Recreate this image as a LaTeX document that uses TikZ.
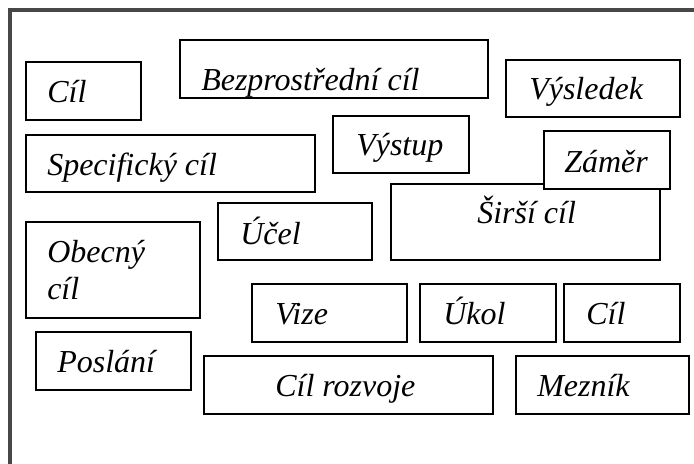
\documentclass[tikz,border=0pt]{standalone}
\usepackage{fontspec}
\setmainfont{Liberation Serif}
\begin{document}
\begin{tikzpicture}[x=0.75pt,y=-0.75pt,
  box/.style={draw=black, fill=white, line width=1.5pt, rectangle, inner sep=0pt},
  lbl/.style={inner sep=0pt, anchor=base west, font=\fontsize{24}{27.7}\selectfont\itshape, align=left},
  frame/.style={draw=black!72, line width=2.6pt}]
\useasboundingbox (0,0) rectangle (694,464);
% open frame along the top and left edges
\coordinate (fa) at (10,464);
\coordinate (fb) at (10,10);
\coordinate (fc) at (694,10);
\draw[frame] (fa) -- (fb) -- (fc);
% #1 name, #2-#5 box corners, #6-#7 base point of the last text line, #8 text
\newcommand\termbox[8]{%
  \node[box, minimum width={0.75pt*(#4-#2)}, minimum height={0.75pt*(#5-#3)}]
    (#1) at ({(#2+#4)/2},{(#3+#5)/2}) {};
  \node[lbl] (#1-t) at (#6,#7) {#8};}
\termbox{cil1}{26}{62}{141}{120}{47}{102}{Cíl}
\termbox{bez}{180}{40}{488}{98}{201}{90}{Bezprostřední cíl}
\termbox{spec}{26}{135}{315}{192}{47}{175}{Specifický cíl}
\termbox{vystup}{333}{116}{469}{173}{356}{155}{Výstup}
\termbox{vysl}{506}{60}{680}{117}{529}{99}{Výsledek}
\termbox{sirsi}{391}{184}{660}{260}{477}{223}{Širší cíl}
\termbox{zamer}{544}{131}{670}{189}{564}{172}{Záměr}
\termbox{ucel}{218}{203}{372}{260}{240}{244}{Účel}
\termbox{obec}{26}{222}{200}{318}{47}{299}{Obecný\\cíl}
\termbox{posl}{36}{332}{191}{390}{57}{372}{Poslání}
\termbox{vize}{252}{284}{407}{342}{275}{324}{Vize}
\termbox{ukol}{420}{284}{556}{342}{443}{324}{Úkol}
\termbox{cil2}{564}{284}{680}{342}{586}{324}{Cíl}
\termbox{rozv}{204}{356}{493}{414}{275}{396}{Cíl rozvoje}
\termbox{mez}{516}{356}{689}{414}{537}{396}{Mezník}
\end{tikzpicture}
\end{document}
